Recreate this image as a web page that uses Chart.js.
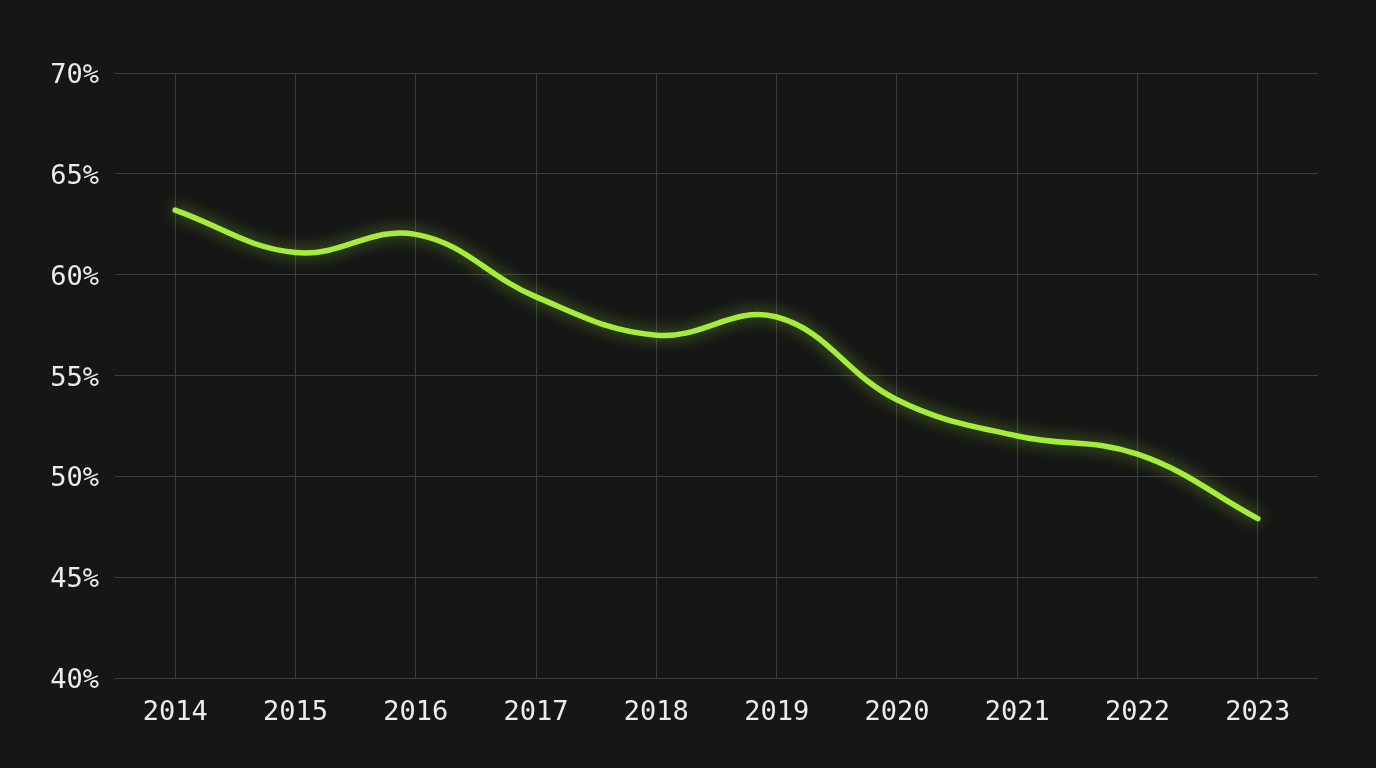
<!DOCTYPE html>
<html>
<head>
<meta charset="utf-8">
<script src="https://cdn.jsdelivr.net/npm/chart.js@4/dist/chart.umd.min.js"></script>
<style>
  html, body { margin: 0; padding: 0; background: #161616; }
  #wrap { width: 1376px; height: 768px; }
</style>
</head>
<body>
<div id="wrap"><canvas id="chart" width="1376" height="768"></canvas></div>
<script>
const years = ['2014', '2015', '2016', '2017', '2018', '2019', '2020', '2021', '2022', '2023'];
const shareValues = [63.2, 61.1, 62.0, 58.9, 57.0, 57.9, 53.8, 52.0, 51.1, 47.9];
const yMin = 40;
const yMax = 70;
const yStep = 5;

// soft glow behind the line
const glowPlugin = {
    id: 'glow',
    beforeDatasetDraw(chart) {
        const ctx = chart.ctx;
        ctx.save();
        ctx.shadowColor = 'rgba(150, 230, 50, 0.6)';
        ctx.shadowBlur = 16;
    },
    afterDatasetDraw(chart) {
        chart.ctx.restore();
    }
};

const bgPlugin = {
    id: 'bg',
    beforeDraw(chart) {
        const ctx = chart.ctx;
        ctx.save();
        ctx.fillStyle = '#161616';
        ctx.fillRect(0, 0, chart.width, chart.height);
        ctx.restore();
    }
};

const fontSpec = { family: '"DejaVu Sans Mono", "Liberation Mono", monospace', size: 27 };

const ctx = document.getElementById('chart').getContext('2d');
new Chart(ctx, {
    type: 'line',
    data: {
        labels: years,
        datasets: [{
            data: shareValues,
            borderColor: '#a6ec3a',
            borderWidth: 5.5,
            borderCapStyle: 'round',
            tension: 0.4,
            pointRadius: 0,
            fill: false
        }]
    },
    options: {
        responsive: false,
        animation: false,
        layout: { padding: { top: 73, right: 58, left: 0, bottom: 0 } },
        plugins: {
            legend: { display: false },
            tooltip: { enabled: false }
        },
        scales: {
            x: {
                offset: true,
                grid: { color: '#3d3d3d', lineWidth: 1, drawTicks: false, offset: false },
                border: { display: false },
                ticks: { color: '#ececec', font: fontSpec, padding: 19, maxRotation: 0 },
                afterFit(scale) { scale.height = 90; }
            },
            y: {
                min: yMin,
                max: yMax,
                grid: { color: '#3d3d3d', lineWidth: 1, drawTicks: false },
                border: { display: false },
                ticks: {
                    stepSize: yStep,
                    color: '#ececec',
                    font: fontSpec,
                    padding: 16,
                    labelOffset: 3,
                    callback: v => v + '%'
                },
                afterFit(scale) { scale.width = 115; }
            }
        }
    },
    plugins: [bgPlugin, glowPlugin]
});
</script>
</body>
</html>
